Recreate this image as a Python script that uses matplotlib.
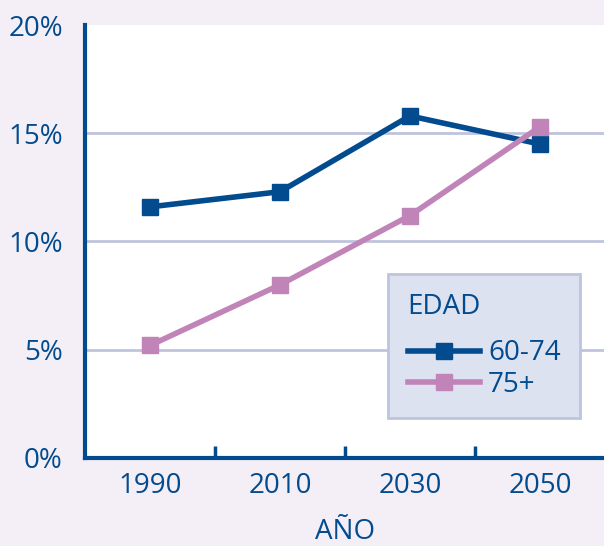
import matplotlib
matplotlib.use("Agg")
import matplotlib.pyplot as plt

years = ["1990", "2010", "2030", "2050"]
s_60_74 = [11.6, 12.3, 15.8, 14.5]
s_75 = [5.2, 8.0, 11.2, 15.3]
yticks = [0, 5, 10, 15, 20]
ytick_labels = ["0%", "5%", "10%", "15%", "20%"]

DARK = "#034b8f"
PINK = "#c184b9"
GRID = "#bec4de"
BG = "#f4eff6"

plt.rcParams['font.family'] = ['Open Sans', 'DejaVu Sans']

fig = plt.figure(figsize=(6.04, 5.46), dpi=100, facecolor=BG)
ax = fig.add_axes([85/604, 88/546, 520/604, 433/546])
ax.set_facecolor("white")

x = list(range(len(years)))
ax.plot(x, s_60_74, color=DARK, lw=4, marker="s", ms=12, label="60-74", zorder=3)
ax.plot(x, s_75, color=PINK, lw=4, marker="s", ms=12, label="75+", zorder=3)

ax.set_xlim(-0.5, 3.5)
ax.set_ylim(0, 20)

for v in [5, 10, 15]:
    ax.axhline(v, color=GRID, lw=2, zorder=1)

ax.set_yticks(yticks)
ax.set_yticklabels(ytick_labels)
ax.tick_params(axis="y", length=0, pad=16, labelsize=20, labelcolor=DARK)
ax.set_xticks(x)
ax.set_xticklabels(years)
ax.tick_params(axis="x", length=0, pad=10, labelsize=20, labelcolor=DARK)

# minor ticks between categories
ax.set_xticks([0.5, 1.5, 2.5], minor=True)
ax.tick_params(axis="x", which="minor", direction="in", length=9, width=2.5, color=DARK)
# short tick at top of y axis
ax.set_yticks([20], minor=True)
ax.tick_params(axis="y", which="minor", direction="in", length=12, width=2.5, color=DARK)

for s in ["top", "right"]:
    ax.spines[s].set_visible(False)
for s in ["left", "bottom"]:
    ax.spines[s].set_color(DARK)
    ax.spines[s].set_linewidth(3)

ax.set_xlabel("AÑO", fontsize=20, color=DARK, labelpad=13)

leg = ax.legend(title="EDAD", loc="lower left", bbox_to_anchor=(0.583, 0.092),
                fontsize=20, title_fontsize=20, frameon=True, fancybox=False,
                handlelength=2.6, handletextpad=0.3, borderpad=0.7,
                labelspacing=0.12, borderaxespad=0, alignment="left")
leg._legend_box.sep = 13
leg.get_frame().set_facecolor("#dde2f0")
leg.get_frame().set_edgecolor(GRID)
leg.get_frame().set_linewidth(2)
leg.get_frame().set_alpha(1)
leg.get_title().set_color(DARK)
for t in leg.get_texts():
    t.set_color(DARK)

fig.savefig("out.png", dpi=100, facecolor=BG)
